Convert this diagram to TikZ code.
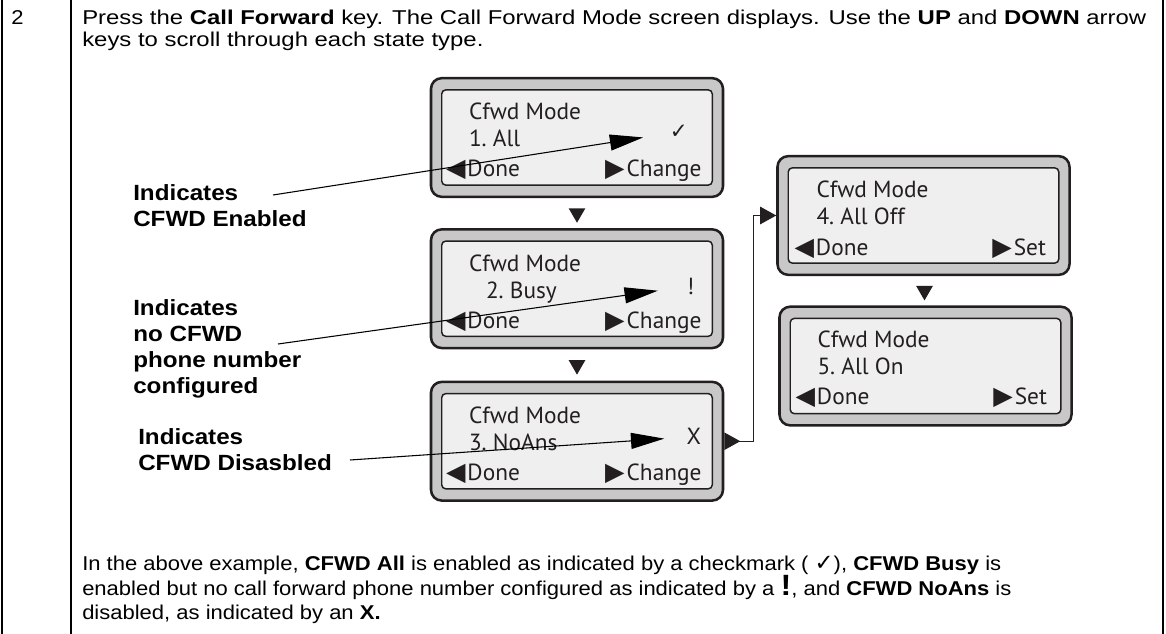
\documentclass[tikz,border=0pt]{standalone}
\usepackage{fontspec}
\setmainfont{Liberation Sans}[FakeStretch=1.1]
\newfontfamily\stepfont{Liberation Sans}[FakeStretch=1.195]
\newfontfamily\lcdfont{PT Sans}
\newfontfamily\symfont{DejaVu Sans}
\usetikzlibrary{positioning,shapes.geometric,arrows.meta}
\definecolor{bezel}{RGB}{200,200,200}
\definecolor{lcdback}{RGB}{239,239,239}
\definecolor{ink}{RGB}{35,31,32}
\newcommand{\lcd}[1]% screen node
{([shift={(12,13)}]#1.north west) rectangle ([shift={(-12,-13)}]#1.south east)
}
\newcommand{\ltri}{{\symfont\fontsize{19}{19}\selectfont ◀}\hspace{1.5pt}}
\newcommand{\rtri}{{\symfont\fontsize{19}{19}\selectfont ▶}\hspace{1.5pt}}

\begin{document}
\begin{tikzpicture}[x=0.75pt,y=-0.75pt,
	frame/.style={line width=1.5pt},
	body/.style={font=\fontsize{15}{16.5}\selectfont, align=left, inner sep=0pt},
	callname/.style={font=\fontsize{16.5}{19.5}\selectfont\bfseries, align=left, inner sep=0pt},
	screen/.style={draw=ink, fill=bezel, line width=1.9pt, rounded corners=8pt, minimum width=219pt, minimum height=89pt},
	lcdstyle/.style={draw=ink, fill=lcdback, line width=1.1pt, rounded corners=3pt},
	scr/.style={font=\lcdfont\fontsize{17.5}{20}\selectfont, text=ink, inner sep=0pt},
	downtri/.style={regular polygon, regular polygon sides=3, shape border rotate=180, fill=ink, minimum size=14.5pt, inner sep=0pt},
	flow/.style={draw=ink, line width=1.1pt, {Triangle[reversed, length=12pt, width=13pt]}-{Triangle[length=12pt, width=13pt]}},
	callout/.style={draw=black, line width=0.8pt, -{Triangle[length=25pt, width=12pt]}}]
	\useasboundingbox (0,0) rectangle (1166,634);
	\draw[frame] (2,0) -- (2,634);
	\draw[frame] (71,0) -- (71,634);
	\draw[frame] (1163,0) -- (1163,634);
	\node[body, anchor=base west] (num) at (11,25) {2};
	\node[body, anchor=base west, font=\stepfont\fontsize{15}{16.5}\selectfont] (step) at (82,47) {Press the \textbf{Call Forward} key. The Call Forward Mode screen displays. Use the \textbf{UP} and \textbf{DOWN} arrow\\keys to scroll through each state type.};
	% screens
	\node[screen] (s1) at (577,137.5) {};
	\node[screen, below=22.5pt of s1] (s2) {};
	\node[screen, below=23.5pt of s2] (s3) {};
	\node[screen] (s4) at (923.5,215.5) {};
	\node[screen, below=22pt of s4, xshift=1.5pt] (s5) {};
	\draw[lcdstyle] \lcd{s1};
	\draw[lcdstyle] \lcd{s2};
	\draw[lcdstyle] \lcd{s3};
	\draw[lcdstyle] \lcd{s4};
	\draw[lcdstyle] \lcd{s5};
	% screen texts
	\node[scr, anchor=base west] (s1t) at ([shift={(39,43)}]s1.north west) {Cfwd Mode};
	\node[scr, anchor=base west] (s1i) at ([shift={(39,70)}]s1.north west) {1.\ All};
	\node[scr, anchor=base west] (s1d) at ([shift={(16,100)}]s1.north west) {\ltri Done};
	\node[scr, anchor=base east] (s1c) at ([shift={(272,100)}]s1.north west) {\rtri Change};
	\node[scr, anchor=base west] (s2t) at ([shift={(39,43)}]s2.north west) {Cfwd Mode};
	\node[scr, anchor=base west] (s2i) at ([shift={(56,70)}]s2.north west) {2.\ Busy};
	\node[scr, anchor=base west] (s2d) at ([shift={(16,100)}]s2.north west) {\ltri Done};
	\node[scr, anchor=base east] (s2c) at ([shift={(272,100)}]s2.north west) {\rtri Change};
	\node[scr, anchor=base west] (s3t) at ([shift={(39,43)}]s3.north west) {Cfwd Mode};
	\node[scr, anchor=base west] (s3i) at ([shift={(39,70)}]s3.north west) {3.\ NoAns};
	\node[scr, anchor=base west] (s3d) at ([shift={(16,100)}]s3.north west) {\ltri Done};
	\node[scr, anchor=base east] (s3c) at ([shift={(272,100)}]s3.north west) {\rtri Change};
	\node[scr, anchor=base west] (s4t) at ([shift={(40,43)}]s4.north west) {Cfwd Mode};
	\node[scr, anchor=base west] (s4i) at ([shift={(40,70)}]s4.north west) {4.\ All Off};
	\node[scr, anchor=base west] (s4d) at ([shift={(18,101)}]s4.north west) {\ltri Done};
	\node[scr, anchor=base east] (s4c) at ([shift={(270,101)}]s4.north west) {\rtri Set};
	\node[scr, anchor=base west] (s5t) at ([shift={(39,42)}]s5.north west) {Cfwd Mode};
	\node[scr, anchor=base west] (s5i) at ([shift={(39,69)}]s5.north west) {5.\ All On};
	\node[scr, anchor=base west] (s5d) at ([shift={(17,99)}]s5.north west) {\ltri Done};
	\node[scr, anchor=base east] (s5c) at ([shift={(269,99)}]s5.north west) {\rtri Set};
	% marks
	\node[scr] (m1) at ([shift={(249,55)}]s1.north west) {{\symfont\fontsize{16}{16}\selectfont ✓}};
	\node[scr] (m2) at ([shift={(261,58)}]s2.north west) {!};
	\node[scr] (m3) at ([shift={(264,56)}]s3.north west) {X};
	% flow
	\path (s1) -- node[downtri] (d12) {} (s2);
	\path (s2) -- node[downtri] (d23) {} (s3);
	\path (s4) -- node[downtri] (d45) {} (s5);
	\draw[flow] (s3.east) -- ++(29,0) |- (s4.west);
	% callouts
	\node[callname, anchor=base west] (l1) at (133,227) {Indicates\\CFWD Enabled};
	\node[callname, anchor=base west] (l2) at (133,393) {Indicates\\no CFWD\\phone number\\configured};
	\node[callname, anchor=base west] (l3) at (138,470) {Indicates\\CFWD Disasbled};
	\coordinate (t1) at (273,195);
	\coordinate (t2) at (278,344);
	\coordinate (t3) at (350,460);
	\draw[callout, shorten >=20pt] (t1) -- (m1);
	\draw[callout, shorten >=22pt] (t2) -- (m2);
	\draw[callout, shorten >=16.5pt] (t3) -- (m3);
	\node[body, anchor=base west, font=\fontsize{15}{17.5}\selectfont] (note) at (82,619) {In the above example, \textbf{CFWD All} is enabled as indicated by a checkmark ( {\symfont\fontsize{17}{17}\selectfont ✓}), \textbf{CFWD Busy} is\\enabled but no call forward phone number configured as indicated by a {\fontsize{22}{22}\selectfont\bfseries !}, and \textbf{CFWD NoAns} is\\disabled, as indicated by an \textbf{X.}};
\end{tikzpicture}
\end{document}
